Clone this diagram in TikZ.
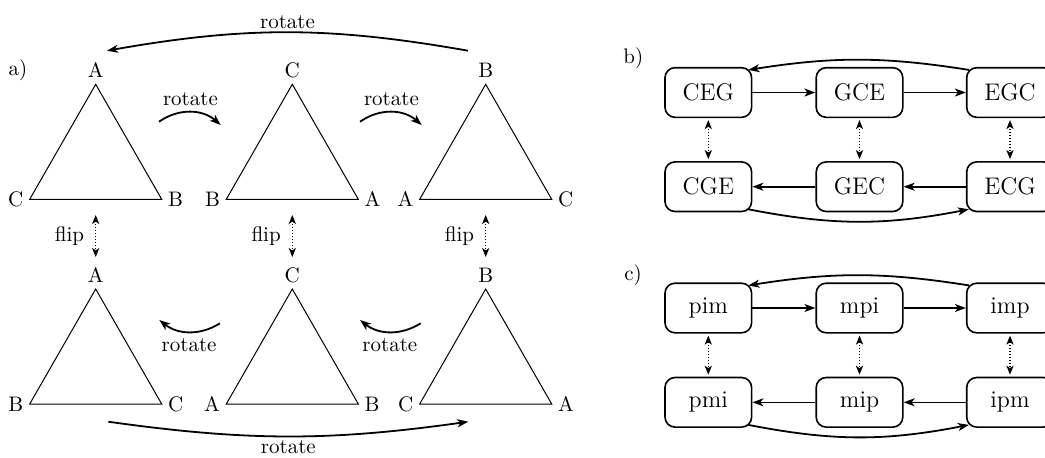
\documentclass[tikz,border=0pt]{standalone}
\usetikzlibrary{arrows.meta,calc}
\begin{document}
\begin{tikzpicture}[x=0.5pt,y=-0.5pt,
  tri/.style={line width=0.5pt, line join=miter},
  lbl/.style={font=\fontsize{10.5}{12}\selectfont, inner sep=3pt},
  arr/.style={line width=0.9pt, -{Stealth[length=5.5pt,width=4pt,inset=1.5pt]}},
  flipar/.style={line width=0.6pt, dash pattern=on 0.6pt off 0.9pt, {Stealth[length=4.5pt,width=3.6pt,inset=1.2pt]}-{Stealth[length=4.5pt,width=3.6pt,inset=1.2pt]}},
  box/.style={draw, line width=0.8pt, rounded corners=5pt, minimum width=43.3pt, minimum height=24.8pt, font=\fontsize{12}{14}\selectfont, inner sep=0pt},
]
\useasboundingbox (0,0) rectangle (1045,457);

% ---- panel a: triangles ----
\foreach \n/\x/\y/\t/\l/\r in {t1/95.7/84.3/A/C/B, t2/292.3/84.3/C/B/A, t3/485.7/84.3/B/A/C,
                                 t4/95.7/289/A/B/C, t5/292.3/289/C/A/B, t6/485.7/289/B/C/A} {
  \coordinate (\n-a) at (\x,\y);
  \coordinate (\n-l) at (\x-66,\y+115);
  \coordinate (\n-r) at (\x+66,\y+115);
  \draw[tri] (\n-a) -- (\n-l) -- (\n-r) -- cycle;
  \node[lbl, anchor=south] (\n-ta) at (\n-a) {\t};
  \node[lbl, anchor=east] (\n-la) at (\n-l) {\l};
  \node[lbl, anchor=west] (\n-ra) at (\n-r) {\r};
}
\node[lbl] (la) at (18,70) {a)};

% rotate arrows
\coordinate (r1s) at (468,50.7);  \coordinate (r1e) at (107,50.7);
\draw[arr] (r1s) to[bend right=10] node[lbl, above, inner sep=1.5pt] (r1l) {rotate} (r1e);
\coordinate (r2s) at (159,121.7); \coordinate (r2e) at (220.7,125);
\draw[arr] (r2s) to[bend left=38] node[lbl, above] (r2l) {rotate} (r2e);
\coordinate (r3s) at (360,121.7); \coordinate (r3e) at (421.7,125);
\draw[arr] (r3s) to[bend left=38] node[lbl, above] (r3l) {rotate} (r3e);
\coordinate (r4s) at (220,323.3); \coordinate (r4e) at (159.3,320);
\draw[arr] (r4s) to[bend left=35] node[lbl, below] (r4l) {rotate} (r4e);
\coordinate (r5s) at (420.7,323.3); \coordinate (r5e) at (360,320);
\draw[arr] (r5s) to[bend left=35] node[lbl, below] (r5l) {rotate} (r5e);
\coordinate (r6s) at (108.3,421.7); \coordinate (r6e) at (468.3,421.7);
\draw[arr] (r6s) to[bend right=8] node[lbl, below, inner sep=1.5pt] (r6l) {rotate} (r6e);

% flip arrows
\foreach \n/\x in {f1/95.7, f2/292.3, f3/485.7} {
  \coordinate (\n s) at (\x,215);
  \coordinate (\n e) at (\x,257);
  \draw[flipar] (\n s) -- node[lbl, left=2.5pt] (\n l) {flip} (\n e);
}

% ---- panel b ----
\node[lbl] (lb) at (633.3,58.3) {b)};
\node[box] (CEG) at (708.3,92.5) {CEG};
\node[box] (GCE) at (859.5,92.5) {GCE};
\node[box] (EGC) at (1010,92.5) {EGC};
\node[box] (CGE) at (708.3,186.7) {CGE};
\node[box] (GEC) at (859.5,186.7) {GEC};
\node[box] (ECG) at (1010,186.7) {ECG};
\draw[arr, line width=0.8pt] (CEG) -- (GCE);
\draw[arr, line width=0.8pt] (GCE) -- (EGC);
\draw[arr, line width=0.8pt] (ECG) -- (GEC);
\draw[arr, line width=0.8pt] (GEC) -- (CGE);
\draw[arr] ($(EGC.north west)+(3,3)$) to[bend right=9] ($(CEG.north east)+(-4,3)$);
\draw[arr] ($(CGE.south east)+(-4,-3)$) to[bend right=11] ($(ECG.south west)+(3,-3)$);
\foreach \a/\b in {CEG/CGE, GCE/GEC, EGC/ECG}
  \draw[flipar, shorten <=1pt, shorten >=1pt] (\a.south) -- (\b.north);

% ---- panel c ----
\node[lbl] (lc) at (633,275) {c)};
\node[box] (pim) at (708.3,308) {pim};
\node[box] (mpi) at (859.5,308) {mpi};
\node[box] (imp) at (1010,308) {imp};
\node[box] (pmi) at (708.3,402.3) {pmi};
\node[box] (mip) at (859.5,402.3) {mip};
\node[box] (ipm) at (1010,402.3) {ipm};
\draw[arr, line width=0.8pt] (pim) -- (mpi);
\draw[arr, line width=0.8pt] (mpi) -- (imp);
\draw[arr, line width=0.8pt] (ipm) -- (mip);
\draw[arr, line width=0.8pt] (mip) -- (pmi);
\draw[arr] ($(imp.north west)+(3,3)$) to[bend right=9] ($(pim.north east)+(-4,3)$);
\draw[arr] ($(pmi.south east)+(-4,-3)$) to[bend right=11] ($(ipm.south west)+(3,-3)$);
\foreach \a/\b in {pim/pmi, mpi/mip, imp/ipm}
  \draw[flipar, shorten <=1pt, shorten >=1pt] (\a.south) -- (\b.north);
\end{tikzpicture}
\end{document}
